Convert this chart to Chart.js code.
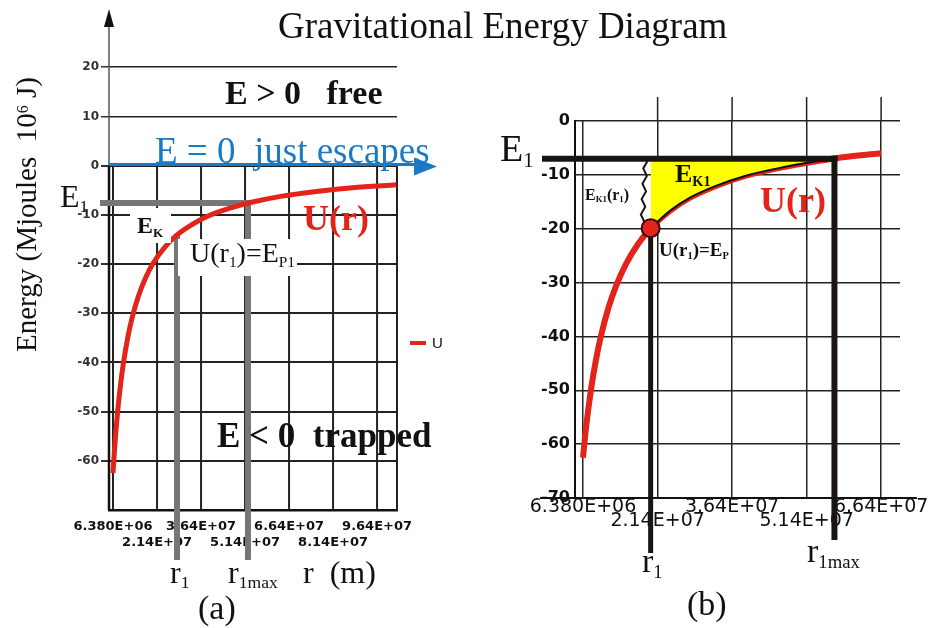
<!DOCTYPE html>
<html>
<head>
<meta charset="utf-8">
<script src="https://cdn.jsdelivr.net/npm/chart.js@4.4.1/dist/chart.umd.min.js"></script>
<style>
html, body { margin: 0; padding: 0; background: #fff; }
body { width: 948px; height: 628px; position: relative; overflow: hidden;
       font-family: "Liberation Serif", "Times New Roman", serif; color: #111; }
canvas { position: absolute; top: 0; }
#chartA { left: 0; }
#chartB { left: 474px; }
.t { position: absolute; line-height: 1; white-space: pre; }
.s { font-size: 0.55em; position: relative; top: 0.28em; }
.p { font-size: 0.55em; position: relative; top: -0.5em; }
</style>
</head>
<body>
<canvas id="chartA" width="474" height="628"></canvas>
<canvas id="chartB" width="474" height="628"></canvas>
<script>
// Potential energy U(r) of a 1 kg mass around the Earth, r in metres, U in 10^6 J
const rA = [6.38e6, 7.0e6, 8.0e6, 9.0e6, 1.0e7, 1.15e7, 1.3e7, 1.5e7, 1.75e7, 2.0e7, 2.4e7, 2.8e7, 3.3e7, 3.9e7, 4.6e7, 5.4e7, 6.4e7, 7.5e7, 8.8e7, 1.03e8];
const uA = [-62.5, -56.9, -49.8, -44.3, -39.9, -34.7, -30.7, -26.6, -22.8, -19.9, -16.6, -14.2, -12.1, -10.2, -8.7, -7.4, -6.2, -5.3, -4.5, -3.9];
const rB = [6.38e6, 7.0e6, 8.0e6, 9.0e6, 1.0e7, 1.15e7, 1.3e7, 1.5e7, 1.75e7, 2.0e7, 2.4e7, 2.8e7, 3.3e7, 3.9e7, 4.6e7, 5.4e7, 6.0e7, 6.64e7];
const uB = [-62.5, -56.9, -49.8, -44.3, -39.9, -34.7, -30.7, -26.6, -22.8, -19.9, -16.6, -14.2, -12.1, -10.2, -8.7, -7.4, -6.6, -6.0];
// stretch of the curve between r1 and r1max (kinetic energy region)
const rK = [2.0e7, 2.4e7, 2.8e7, 3.3e7, 3.9e7, 4.6e7, 5.4e7, 5.7e7];
const uK = [-19.9, -16.6, -14.2, -12.1, -10.2, -8.7, -7.4, -7.0];

const xTickVals = [6.38e6, 2.14e7, 3.64e7, 5.14e7, 6.64e7, 8.14e7, 9.64e7];
const xTickText = ['6.380E+06', '2.14E+07', '3.64E+07', '5.14E+07', '6.64E+07', '8.14E+07', '9.64E+07'];
const xTickValsB = [6.38e6, 2.14e7, 3.64e7, 5.14e7, 6.64e7];
const yTicksA = [20, 10, 0, -10, -20, -30, -40, -50, -60];
const yTicksB = [0, -10, -20, -30, -40, -50, -60, -70];

// total energy E1 and turning points
const E1A = -7.6, r1A = 2.82e7, u1A = -14.1, rMaxA = 5.24e7;
const E1B = -7.0, r1B = 2.0e7, u1B = -19.9, rMaxB = 5.7e7;

const RED = '#e3241b', BLUE = '#1a7ac4', GRID = '#222';

function pts(xs, ys) { return xs.map((x, i) => ({ x: x, y: ys[i] })); }
function seg(ctx, x1, y1, x2, y2) { ctx.beginPath(); ctx.moveTo(x1, y1); ctx.lineTo(x2, y2); ctx.stroke(); }
// staggered two-row tick labels
function twoRowLabels() {
  return (v, i) => (i % 2 ? ['', xTickText[i]] : [xTickText[i]]);
}

// ---------- (a) overview ----------
const panelA = {
  id: 'panelA',
  beforeDatasetsDraw(chart) {
    const { ctx, chartArea: ca, scales: { x, y } } = chart;
    const y0 = y.getPixelForValue(0), yb = y.getPixelForValue(-70);
    ctx.save();
    // vertical grid only in the bound (E < 0) region
    ctx.strokeStyle = GRID; ctx.lineWidth = 2;
    xTickVals.forEach(v => { const px = x.getPixelForValue(v); seg(ctx, px, y0, px, yb); });
    seg(ctx, ca.right, y0, ca.right, yb);
    // energy axis: thin above zero, heavy below
    ctx.strokeStyle = '#555'; ctx.lineWidth = 1.5;
    seg(ctx, ca.left, ca.top, ca.left, y0);
    ctx.strokeStyle = '#111'; ctx.lineWidth = 2.5;
    seg(ctx, ca.left, y0, ca.left, yb);
    // E1 level and turning points
    ctx.strokeStyle = '#767676'; ctx.lineWidth = 6;
    const yE = y.getPixelForValue(E1A), xr1 = x.getPixelForValue(r1A), xrm = x.getPixelForValue(rMaxA);
    seg(ctx, ca.left - 9, yE, xrm + 3, yE);
    seg(ctx, xr1, y.getPixelForValue(u1A), xr1, yb + 50);
    seg(ctx, xrm, yE, xrm, yb + 50);
    ctx.restore();
  },
  afterDraw(chart) {
    const { ctx, chartArea: ca, scales: { y } } = chart;
    const y0 = y.getPixelForValue(0);
    ctx.save();
    // arrow head of the energy axis
    ctx.fillStyle = '#111';
    ctx.beginPath(); ctx.moveTo(ca.left, ca.top - 9); ctx.lineTo(ca.left - 5, ca.top + 9); ctx.lineTo(ca.left + 5, ca.top + 9); ctx.closePath(); ctx.fill();
    // E = 0 arrow
    ctx.strokeStyle = BLUE; ctx.fillStyle = BLUE; ctx.lineWidth = 3;
    seg(ctx, ca.left, y0 - 1, ca.right + 22, y0 - 1);
    ctx.beginPath(); ctx.moveTo(ca.right + 40, y0 + 1); ctx.lineTo(ca.right + 17, y0 - 8); ctx.lineTo(ca.right + 17, y0 + 10); ctx.closePath(); ctx.fill();
    ctx.restore();
  }
};

new Chart(document.getElementById('chartA'), {
  type: 'line',
  data: {
    datasets: [{
      label: 'U', data: pts(rA, uA), borderColor: RED, borderWidth: 5, pointRadius: 0,
      cubicInterpolationMode: 'monotone', fill: false
    }]
  },
  options: {
    responsive: false, animation: false, devicePixelRatio: 1,
    layout: { padding: { left: 0, top: 18, right: 77, bottom: 78 } },
    plugins: { legend: { display: false }, tooltip: { enabled: false } },
    scales: {
      x: {
        type: 'linear', min: 5.02e6, max: 1.032e8,
        afterBuildTicks: s => { s.ticks = xTickVals.map(v => ({ value: v })); },
        afterFit: s => { s.height = 40; },
        grid: { display: false },
        border: { display: true, color: '#111', width: 2.5 },
        ticks: {
          autoSkip: false, maxRotation: 0, minRotation: 0, padding: 1, color: '#111',
          font: { family: '"DejaVu Sans", sans-serif', size: 13, weight: 'bold', lineHeight: '16px' },
          callback: twoRowLabels()
        }
      },
      y: {
        type: 'linear', min: -70, max: 30,
        afterBuildTicks: s => { s.ticks = yTicksA.map(v => ({ value: v })); },
        afterFit: s => { s.width = 109; },
        border: { display: false },
        grid: {
          color: GRID, lineWidth: c => (c.tick && c.tick.value > 0 ? 1.5 : 2),
          drawTicks: true, tickLength: 8, tickColor: '#333'
        },
        ticks: {
          padding: 2, color: '#333',
          font: { family: '"DejaVu Sans", sans-serif', size: 12, weight: 'bold' },
          callback: v => String(v)
        }
      }
    }
  },
  plugins: [panelA]
});

// ---------- (b) close-up ----------
const panelB = {
  id: 'panelB',
  beforeDatasetsDraw(chart) {
    const { ctx, chartArea: ca, scales: { x } } = chart;
    ctx.save();
    ctx.strokeStyle = GRID; ctx.lineWidth = 1.5;
    // inner verticals run a little above the zero line
    xTickValsB.slice(1).forEach(v => { const px = x.getPixelForValue(v); seg(ctx, px, ca.top - 24, px, ca.top); });
    ctx.restore();
  },
  afterDatasetDraw(chart, args) {
    if (args.index !== 1) return;
    const { ctx, chartArea: ca, scales: { x, y } } = chart;
    const yb = y.getPixelForValue(-70), yE = y.getPixelForValue(E1B);
    const xr1 = x.getPixelForValue(r1B), xrm = x.getPixelForValue(rMaxB), yU = y.getPixelForValue(u1B);
    ctx.save();
    ctx.strokeStyle = '#1a1410';
    ctx.lineWidth = 6;
    seg(ctx, ca.left - 33, yE, xrm + 3, yE);
    seg(ctx, xrm, yE - 3, xrm, yb + 42);
    ctx.lineWidth = 5;
    seg(ctx, xr1, yU, xr1, yb + 55);
    // marker for the kinetic energy at r1
    ctx.lineWidth = 2;
    ctx.beginPath();
    const steps = 8;
    for (let i = 0; i <= steps; i++) {
      const py = yE + 2 + (yU - 8 - yE) * i / steps;
      const px = xr1 - 3 - (i % 2 ? 4 : 0) - i * 0.4;
      if (i === 0) ctx.moveTo(px, py); else ctx.lineTo(px, py);
    }
    ctx.stroke();
    ctx.restore();
  },
  afterDraw(chart) {
    const { ctx, chartArea: ca, scales: { y } } = chart;
    ctx.save();
    ctx.strokeStyle = '#111'; ctx.lineWidth = 2;
    const yb = y.getPixelForValue(-70);
    seg(ctx, ca.left - 35, yb, ca.right + 17, yb);
    ctx.restore();
  }
};

new Chart(document.getElementById('chartB'), {
  type: 'line',
  data: {
    datasets: [
      { label: 'U(r1)', data: pts([r1B], [u1B]), showLine: false, pointRadius: 9,
        pointBackgroundColor: RED, pointBorderColor: '#3a0a0a', pointBorderWidth: 2 },
      { label: 'EK1', data: pts(rK, uK), borderColor: '#111', borderWidth: 2, pointRadius: 0,
        cubicInterpolationMode: 'monotone', backgroundColor: '#ffff00', fill: { value: E1B } },
      { label: 'U', data: pts(rB, uB), borderColor: RED, borderWidth: 6, pointRadius: 0,
        cubicInterpolationMode: 'monotone', fill: false }
    ]
  },
  options: {
    responsive: false, animation: false, devicePixelRatio: 1,
    layout: { padding: { left: 0, top: 121, right: 48, bottom: 90 } },
    plugins: { legend: { display: false }, tooltip: { enabled: false } },
    scales: {
      x: {
        type: 'linear', min: 4.77e6, max: 7.02e7,
        afterBuildTicks: s => { s.ticks = xTickValsB.map(v => ({ value: v })); },
        afterFit: s => { s.height = 40; },
        grid: { color: GRID, lineWidth: 1.5, drawTicks: false },
        border: { display: true, color: '#111', width: 2 },
        ticks: {
          autoSkip: false, maxRotation: 0, minRotation: 0, padding: 2, color: '#111',
          font: { family: '"DejaVu Sans", sans-serif', size: 19, lineHeight: '14px' },
          callback: twoRowLabels()
        }
      },
      y: {
        type: 'linear', min: -70, max: 0,
        afterBuildTicks: s => { s.ticks = yTicksB.map(v => ({ value: v })); },
        afterFit: s => { s.width = 101; },
        border: { display: true, color: '#111', width: 2 },
        grid: { color: GRID, lineWidth: 1.5, drawTicks: false },
        ticks: {
          padding: 5, color: '#111',
          font: { family: '"DejaVu Sans", sans-serif', size: 16, weight: 'bold' },
          callback: v => String(v)
        }
      }
    }
  },
  plugins: [panelB]
});

// ---------- text annotations ----------
function note(html, x, base, size, o) {
  o = o || {};
  const d = document.createElement('div');
  d.className = 't';
  d.innerHTML = html;
  const p = o.pad || [0, 0, 0, 0];
  d.style.left = (x - p[3]) + 'px';
  d.style.top = (base - 0.84 * size - p[0]) + 'px';
  d.style.fontSize = size + 'px';
  d.style.padding = p.map(v => v + 'px').join(' ');
  if (o.color) d.style.color = o.color;
  if (o.bold) d.style.fontWeight = 'bold';
  if (o.bg) d.style.background = o.bg;
  if (o.font) d.style.fontFamily = o.font;
  document.body.appendChild(d);
  return d;
}
const S = t => '<span class="s">' + t + '</span>';

note('Gravitational Energy Diagram', 278, 38, 37);

// panel (a)
const yTitle = note('Energy (Mjoules  10<span class="p">6</span> J)', 12, 352 + 0.84 * 29, 29);
yTitle.style.top = '352px';
yTitle.style.transformOrigin = '0 0';
yTitle.style.transform = 'rotate(-90deg)';
note('E &gt; 0   free', 225, 105, 34, { bold: true });
note('E = 0  just escapes', 155, 163, 37, { color: BLUE });
note('E &lt; 0  trapped', 217, 447, 35, { bold: true });
note('E' + S('1'), 60, 207, 32);
note('E' + S('K'), 137, 233, 24, { bold: true, bg: '#fff', pad: [5, 8, 6, 7] });
note('U(r' + S('1') + ')=E' + S('P1'), 190, 263, 28, { bg: '#fff', pad: [0, 2, 9, 12] });
note('U(r)', 303, 230, 36, { bold: true, color: RED });
const key = document.createElement('div');
key.style.cssText = 'position:absolute;left:410px;top:341px;width:16px;height:4px;background:' + RED;
document.body.appendChild(key);
note('U', 432, 348, 15, { font: '"Liberation Sans", Arial, sans-serif' });
note('r' + S('1'), 170, 583, 32);
note('r' + S('1max'), 228, 583, 32);
note('r  (m)', 303, 583, 32);
note('(a)', 198, 620, 34);

// panel (b)
note('E' + S('1'), 500, 161, 38);
note('E' + S('K1') + '(r' + S('1') + ')', 585, 200, 16, { bold: true });
note('E' + S('K1'), 675, 183, 26, { bold: true });
note('U(r)', 760, 212, 36, { bold: true, color: RED });
note('U(r' + S('1') + ')=E' + S('P'), 659, 256, 19, { bold: true });
note('r' + S('1'), 642, 573, 34);
note('r' + S('1max'), 807, 563, 34);
note('(b)', 687, 616, 34);
</script>
</body>
</html>
